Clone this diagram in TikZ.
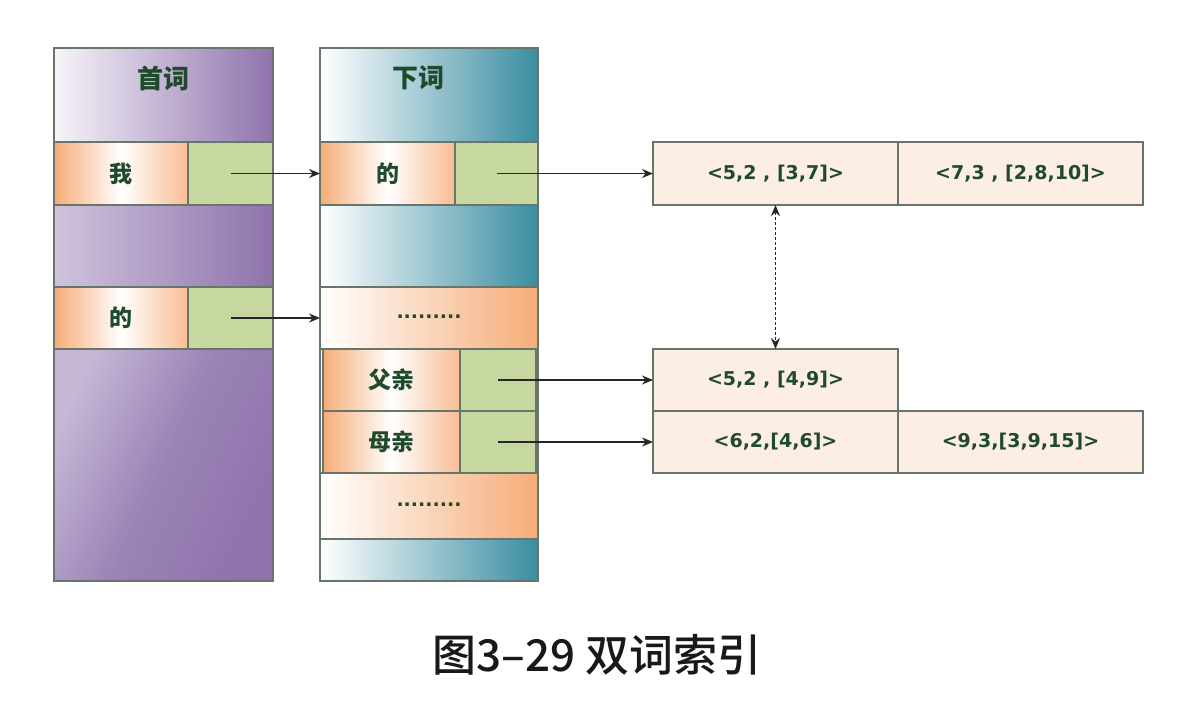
\documentclass[tikz,border=0pt]{standalone}
\usepackage{fontspec}
\setmainfont{DejaVu Sans}
\newfontfamily\cjk{Noto Sans CJK SC}
\newfontfamily\cjkcap{Noto Sans CJK SC}[UprightFont={* Medium}]
\usetikzlibrary{arrows.meta}

\definecolor{edge}{HTML}{68756A}
\definecolor{txt}{HTML}{1F4A2C}
\definecolor{purpleD}{HTML}{8E73AC}
\definecolor{purpleM}{HTML}{CFC3DD}
\definecolor{purpleL}{HTML}{F7F4F9}
\definecolor{tealD}{HTML}{3A8DA2}
\definecolor{orangeD}{HTML}{F6AC78}
\definecolor{greenC}{HTML}{C6D8A0}
\definecolor{listC}{HTML}{FCEEE3}

\begin{document}
\begin{tikzpicture}[x=0.5pt, y=-0.5pt, >={Stealth[length=5.5pt, width=4.5pt]},
    box/.style={draw=edge, line width=0.8pt, inner sep=0pt, outer sep=0pt,
      anchor=north west, text=txt, font=\bfseries\fontsize{9.5}{11}\selectfont},
    word/.style={box, left color=orangeD, right color=orangeD!80, middle color=white},
    ptr/.style={box, fill=greenC},
    dots/.style={box, left color=white, right color=orangeD},
    purpleband/.style={box, left color=purpleL, right color=purpleD},
    tealband/.style={box, left color=white, right color=tealD},
    post/.style={box, fill=listC},
    title/.style={text=txt, font=\cjk\bfseries\fontsize{13}{15}\selectfont},
    link/.style={->, draw=black!85, line width=0.8pt}]

    % Canvas
    \fill[white] (0,0) rectangle (1180,708);
    \useasboundingbox (0,0) rectangle (1180,708);

    % First-word column
    \node[purpleband, minimum width=109.5pt, minimum height=47pt] (lhead) at (54,48) {};
    \node[title] (ltitle) at (163,78) {首词};
    \node[word, minimum width=67pt, minimum height=31.5pt] (lwo) at (54,142) {\cjk\bfseries\fontsize{11.5}{13}\selectfont 我};
    \node[ptr, minimum width=42.5pt, minimum height=31.5pt] (lwoptr) at (188,142) {};
    \node[purpleband, left color=purpleM, right color=purpleD, minimum width=109.5pt, minimum height=41pt] (lmid) at (54,205) {};
    \node[word, minimum width=67pt, minimum height=31pt] (lde) at (54,287) {\cjk\bfseries\fontsize{11.5}{13}\selectfont 的};
    \node[ptr, minimum width=42.5pt, minimum height=31pt] (ldeptr) at (188,287) {};
    \node[box, top color=purpleM!85!purpleD, bottom color=purpleD, middle color=purpleD!80!purpleM,
      shading angle=65, minimum width=109.5pt, minimum height=116pt] (llow) at (54,349) {};

    % Next-word column
    \node[tealband, minimum width=109pt, minimum height=47pt] (mhead) at (320,48) {};
    \node[title] (mtitle) at (418,78) {下词};
    \node[word, minimum width=67.5pt, minimum height=31.5pt] (mde) at (320,142) {\cjk\bfseries\fontsize{11.5}{13}\selectfont 的};
    \node[ptr, minimum width=41.5pt, minimum height=31.5pt] (mdeptr) at (455,142) {};
    \node[tealband, minimum width=109pt, minimum height=41pt] (mmid) at (320,205) {};
    \node[dots, minimum width=109pt, minimum height=31pt] (mdots) at (320,287) {\raisebox{1pt}{.........}};
    \node[tealband, minimum width=109pt, minimum height=62pt] (mback) at (320,349) {};
    \node[word, minimum width=68.5pt, minimum height=31pt] (mfq) at (323,349) {\cjk\bfseries\fontsize{11.5}{13}\selectfont 父亲};
    \node[ptr, minimum width=38pt, minimum height=31pt] (mfqptr) at (460,349) {};
    \node[word, minimum width=68.5pt, minimum height=31pt] (mmq) at (323,411) {\cjk\bfseries\fontsize{11.5}{13}\selectfont 母亲};
    \node[ptr, minimum width=38pt, minimum height=31pt] (mmqptr) at (460,411) {};
    \node[dots, minimum width=109pt, minimum height=33pt] (mdotsb) at (320,473) {\raisebox{1pt}{.........}};
    \node[tealband, minimum width=109pt, minimum height=21pt] (mfoot) at (320,539) {};

    % Posting lists
    \node[post, minimum width=122.5pt, minimum height=31.5pt] (pa) at (653,142) {<5,2 , [3,7]>};
    \node[post, minimum width=122.5pt, minimum height=31.5pt] (pb) at (898,142) {<7,3 , [2,8,10]>};
    \node[post, minimum width=122.5pt, minimum height=31pt] (pc) at (653,349) {<5,2 , [4,9]>};
    \node[post, minimum width=122.5pt, minimum height=31pt] (pd) at (653,411) {<6,2,[4,6]>};
    \node[post, minimum width=122.5pt, minimum height=31pt] (pe) at (898,411) {<9,3,[3,9,15]>};

    % Pointers
    \draw[link] (lwoptr.center) -- (mde.west);
    \draw[link] (ldeptr.center) -- (mdots.west);
    \draw[link] (mdeptr.center) -- (pa.west);
    \draw[link] (mfqptr.center) -- (pc.west);
    \draw[link] (mmqptr.center) -- (pd.west);
    \draw[link, <->, dash pattern=on 1.5pt off 1pt] (pa.south) -- (pc.north);

    % Caption
    \node[font=\cjkcap\fontsize{22}{26}\selectfont, text=black!90] (caption) at (597,655) {图3–29 双词索引};

\end{tikzpicture}
\end{document}
